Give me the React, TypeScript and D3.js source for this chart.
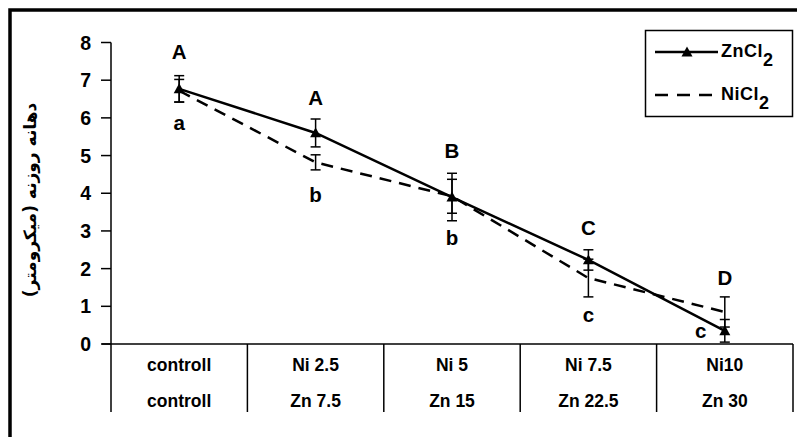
import React from "react";
import * as d3 from "d3";

const categoriesNi = ["controll", "Ni 2.5", "Ni 5", "Ni 7.5", "Ni10"];
const categoriesZn = ["controll", "Zn 7.5", "Zn 15", "Zn 22.5", "Zn 30"];
const znValues = [6.77, 5.6, 3.9, 2.23, 0.35];
const znErrors = [0.35, 0.37, 0.63, 0.27, 0.3];
const niValues = [6.72, 4.82, 3.92, 1.75, 0.85];
const niErrors = [0.3, 0.2, 0.45, 0.5, 0.4];
const upperLetters = ["A", "A", "B", "C", "D"];
const lowerLetters = ["a", "b", "b", "c", "c"];
const yTicks = [0, 1, 2, 3, 4, 5, 6, 7, 8];
const yLabel = "دهانه روزنه (میکرومتر)";

const FONT = "'Liberation Sans', Arial, sans-serif";

export default function App() {
  const y = d3.scaleLinear().domain([0, 8]).range([344, 42.5]);
  const x = d3.scaleBand<string>().domain(categoriesNi).range([111, 793]).padding(0);
  const cx = (i: number) => (x(categoriesNi[i]) as number) + x.bandwidth() / 2;
  const line = d3
    .line<number>()
    .x((_, i) => cx(i))
    .y((d) => y(d));

  const tri = (px: number, py: number) => {
    const s = 5.5;
    return `M${px},${py - s} L${px + s},${py + s * 0.8} L${px - s},${py + s * 0.8} Z`;
  };

  const errBar = (i: number, v: number, e: number, key: string) => {
    const px = cx(i);
    const top = y(Math.min(8, v + e));
    const bot = y(Math.max(0, v - e));
    return (
      <g key={key} stroke="#000" strokeWidth={1.5}>
        <line x1={px} x2={px} y1={top} y2={bot} />
        <line x1={px - 5} x2={px + 5} y1={top} y2={top} />
        <line x1={px - 5} x2={px + 5} y1={bot} y2={bot} />
      </g>
    );
  };

  const upperY = [59, 105, 158, 235, 285];
  const lowerY = [130, 202, 245, 322, 338];
  const lowerDx = [0, 0, 0, 0, -24];

  return (
    <svg
      width={797}
      height={437}
      style={{ position: "absolute", left: 0, top: 0, background: "#fff" }}
      fontFamily={FONT}
    >
      <rect x={0} y={0} width={797} height={437} fill="#fff" />
      <rect x={10} y={10} width={820} height={460} fill="none" stroke="#000" strokeWidth={3.5} />

      {/* y axis */}
      <line x1={111} x2={111} y1={y(8)} y2={412} stroke="#000" strokeWidth={1.5} />
      {yTicks.map((t) => (
        <g key={t}>
          <line x1={101} x2={111} y1={y(t)} y2={y(t)} stroke="#000" strokeWidth={1.5} />
          <text x={91} y={y(t) + 7} textAnchor="end" fontSize={19.5} fontWeight="bold">
            {t}
          </text>
        </g>
      ))}

      {/* x axis table */}
      <line x1={102} x2={793} y1={y(0)} y2={y(0)} stroke="#000" strokeWidth={1.5} />
      {categoriesNi.map((c, i) => (
        <g key={c}>
          <line
            x1={(x(c) as number) + x.bandwidth()}
            x2={(x(c) as number) + x.bandwidth()}
            y1={y(0)}
            y2={412}
            stroke="#000"
            strokeWidth={1.5}
          />
          <text x={cx(i)} y={371} textAnchor="middle" fontSize={17.5} fontWeight="bold">
            {c}
          </text>
          <text x={cx(i)} y={407} textAnchor="middle" fontSize={17.5} fontWeight="bold">
            {categoriesZn[i]}
          </text>
        </g>
      ))}

      {/* y label */}
      <text
        transform="translate(36,200) rotate(-90)"
        textAnchor="middle"
        fontSize={17}
        fontWeight="bold"
        fontFamily="'DejaVu Sans', sans-serif"
        direction="rtl"
      >
        {yLabel}
      </text>

      {/* lines */}
      <path d={line(niValues) as string} fill="none" stroke="#000" strokeWidth={2.5} strokeDasharray="12,8" />
      <path d={line(znValues) as string} fill="none" stroke="#000" strokeWidth={2.5} />

      {niValues.map((v, i) => errBar(i, v, niErrors[i], "ne" + i))}
      {znValues.map((v, i) => errBar(i, v, znErrors[i], "ze" + i))}
      {znValues.map((v, i) => (
        <path key={"zm" + i} d={tri(cx(i), y(v))} fill="#000" />
      ))}

      {upperLetters.map((l, i) => (
        <text key={"u" + i} x={cx(i)} y={upperY[i]} textAnchor="middle" fontSize={20.5} fontWeight="bold">
          {l}
        </text>
      ))}
      {lowerLetters.map((l, i) => (
        <text key={"l" + i} x={cx(i) + lowerDx[i]} y={lowerY[i]} textAnchor="middle" fontSize={20.5} fontWeight="bold">
          {l}
        </text>
      ))}

      {/* legend */}
      <rect x={645.5} y={30.5} width={147} height={86} fill="#fff" stroke="#000" strokeWidth={1.5} />
      <line x1={655} x2={718} y1={52} y2={52} stroke="#000" strokeWidth={2.5} />
      <path d={tri(687, 52)} fill="#000" />
      <text x={721} y={57} fontSize={18} fontWeight="bold" letterSpacing={0.5}>
        ZnCl<tspan dy={9} fontSize={18}>2</tspan>
      </text>
      <line x1={655} x2={718} y1={95} y2={95} stroke="#000" strokeWidth={2.5} strokeDasharray="13,9" />
      <text x={721} y={100} fontSize={18} fontWeight="bold" letterSpacing={0.5}>
        NiCl<tspan dy={9} fontSize={18}>2</tspan>
      </text>
    </svg>
  );
}
